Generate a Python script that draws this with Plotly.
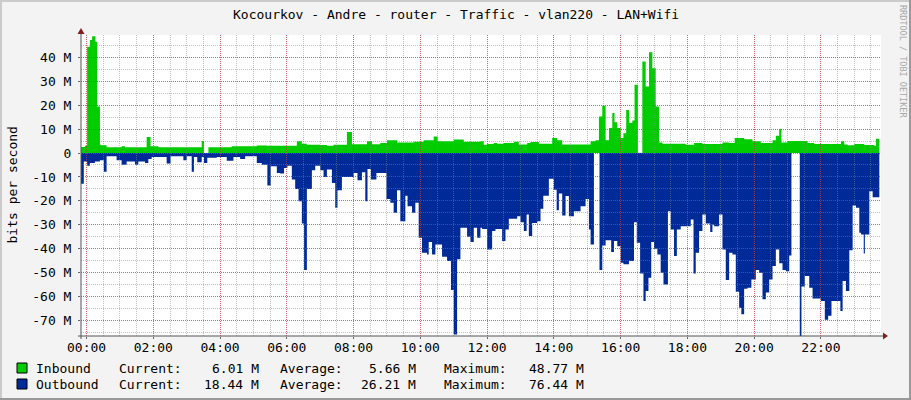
import plotly.graph_objects as go

# minutes after midnight where the value changes (step data), values in Mbit/s
in_t = [-10, -3, 1, 6, 10, 16, 19, 24, 26, 36, 63, 69, 108, 115, 129, 207, 211, 219, 261, 306, 324,
        354, 378, 387, 396, 420, 432, 444, 468, 477, 504, 513, 528, 540, 558, 588, 606, 624, 631, 660, 678,
        708, 714, 720, 732, 738, 750, 768, 777, 792, 798, 813, 837, 846, 855, 906, 915, 921, 927, 933, 939,
        945, 949, 954, 960, 965, 970, 975, 981, 985, 991, 999, 1005, 1011, 1017, 1023, 1029, 1035,
        1077, 1092, 1107, 1143, 1155, 1165, 1182, 1197, 1212, 1233, 1239, 1245, 1249, 1260, 1296, 1308,
        1356, 1362, 1368, 1380, 1398, 1416, 1419, 1425]
in_v = [2.5, 3.0, 44.4, 47.2, 48.77, 46.5, 19.4, 3.5, 3.2, 2.4, 2.8, 2.4, 6.7, 2.8, 2.4, 5.0, 0, 2.4, 2.8, 3.1, 3.0,
        3.0, 4.9, 3.9, 3.5, 3.3, 3.0, 3.5, 8.75, 3.7, 4.9, 3.7, 4.2, 5.3, 4.4, 4.7, 5.3, 6.9, 4.9, 5.6, 4.7,
        4.9, 3.5, 3.75, 4.2, 3.9, 4.2, 4.7, 3.6, 4.2, 4.6, 3.9, 6.25, 5.3, 3.6, 4.9, 5.3, 15.3, 19.7, 5.3, 10.4,
        16.7, 12.8, 10.4, 6.25, 8.3, 18.0, 12.5, 13.6, 28.5, 0, 38.2, 27.8, 42.1, 35.4, 19.4, 4.4, 3.9,
        3.5, 4.2, 3.75, 4.4, 4.2, 6.25, 5.8, 4.9, 4.2, 5.3, 7.2, 10.0, 4.4, 5.0, 4.2, 3.75,
        4.9, 3.6, 3.2, 3.75, 3.3, 3.0, 6.0, 6.0]

out_t = [-10, -5, 1, 6, 15, 24, 31, 36, 54, 63, 72, 87, 93, 105, 111, 117, 144, 151, 174, 180, 189, 193, 199,
         207, 211, 217, 234, 252, 264, 276, 285, 306, 315, 325, 331, 342, 348,
         355, 361, 369, 375, 381, 387, 391, 396, 405, 411, 420, 426, 432, 441, 447, 451, 459, 480, 487, 495,
         501, 505, 511, 521, 539, 546, 552, 558, 564, 573, 577, 585, 591, 597, 603, 612, 615, 621, 627, 639,
         648, 655, 660, 666, 672, 684, 690, 696, 702, 708,
         711, 720, 729, 735, 747, 753, 759, 774, 780, 786, 791, 795, 801, 810, 816, 821, 831, 840, 845, 849,
         855, 861, 867, 876, 888, 897, 903, 906, 912, 922, 927, 933, 943, 948, 954, 960, 965, 975, 984, 989,
         995, 1001, 1005, 1010, 1015, 1020, 1026, 1032, 1037, 1045, 1050, 1056, 1061, 1068,
         1080, 1086, 1091, 1095, 1101, 1107, 1113, 1121, 1125, 1128, 1137, 1143, 1149, 1155, 1161, 1167, 1173,
         1177, 1182, 1188, 1195, 1203, 1209, 1215, 1221, 1227, 1233, 1239, 1245, 1251, 1257, 1263, 1267, 1282,
         1285, 1291, 1299, 1305, 1320, 1327, 1333, 1339, 1355, 1359, 1365, 1371, 1377, 1383, 1389, 1392, 1397,
         1399, 1407, 1413, 1425]
out_v = [-12.8, -3.5, -5.3, -4.2, -3.5, -3.0, -7.8, -1.4, -3.0, -4.9, -3.5, -4.9, -3.5, -4.2, -2.5, -1.7, -4.4,
         -1.4, -3.0, -1.4, -7.8, -1.7, -3.9, -1.7, -4.2, -2.0, -1.7, -3.2, -1.7, -2.5, -1.4, -4.2, -4.9, -13.6,
         -5.5, -8.3, -8.6,
         -6.25, -5.3, -11.1, -15.0, -20.1, -29.4, -48.9, -15.0, -7.2, -5.3, -7.2, -10.0, -6.9, -12.5, -22.9,
         -15.6, -10.0, -8.3, -11.4, -8.0, -20.1, -6.7, -11.1, -8.3, -19.2, -20.8, -25.0, -15.6, -28.5, -17.8,
         -22.2, -25.0, -20.8, -35.4, -41.7, -42.4, -37.2, -42.4, -38.2, -43.3, -45.1, -57.2, -75.8, -44.4,
         -31.25, -35.0, -37.2, -31.25, -35.4, -31.25,
         -31.7, -40.3, -32.6, -31.7, -36.8, -31.9, -27.5, -26.4, -28.9, -32.6, -25.7, -34.7, -29.2, -28.5,
         -23.3, -17.8, -10.8, -15.3, -23.9, -16.9, -26.1, -18.0, -26.4, -24.3, -22.2, -19.2, -31.9, -38.2, 0,
         -48.9, -38.6, -36.4, -41.4, -36.8, -38.9, -45.8, -46.5, -45.1, -28.9, -37.5, -50.3, -61.8, -57.6,
         -52.1, -37.2, -40.0, -42.4, -50.0, -54.9, -24.3, -31.9, -43.0, -31.9, -30.6,
         -30.6, -27.8, -50.3, -41.7, -32.6, -25.7, -29.4, -33.0, -29.9, -30.6, -25.7, -40.3, -53.0, -41.7,
         -42.4, -58.0, -64.6, -67.4, -56.7, -56.25, -52.8, -48.9, -50.0, -61.1, -58.3, -52.8, -47.2, -40.3,
         -46.1, -48.9, -49.4, -42.8, 0, -76.44, -55.8, -51.4, -56.25, -60.8, -61.8, -69.7, -68.0, -61.8,
         -66.0, -53.5, -57.6, -40.6, -21.9, -22.9, -33.3, -34.0, -42.0, -34.0, -16.0, -18.44, -18.44]

hour_ticks = list(range(0, 1440, 120))
hour_labels = ["00:00", "02:00", "04:00", "06:00", "08:00", "10:00",
               "12:00", "14:00", "16:00", "18:00", "20:00", "22:00"]
y_ticks = [40, 30, 20, 10, 0, -10, -20, -30, -40, -50, -60, -70]
y_labels = ["40 M", "30 M", "20 M", "10 M", "0", "-10 M", "-20 M",
            "-30 M", "-40 M", "-50 M", "-60 M", "-70 M"]

names = ["Inbound", "Outbound"]
colors = ["#00CC00", "#002A97"]
current = ["6.01 M", "18.44 M"]
average = ["5.66 M", "26.21 M"]
maximum = ["48.77 M", "76.44 M"]

title = "Kocourkov - Andre - router - Traffic - vlan220 - LAN+Wifi"
FONT = "DejaVu Sans Mono"

# plot area in pixels
L, R, T, B = 81, 881, 35, 336
W, H = R - L, B - T


def px(x):
    return (x - L) / W


def py(y):
    return (B - y) / H


fig = go.Figure()
fig.add_trace(go.Scatter(x=in_t, y=in_v, mode="lines", line=dict(width=0, shape="hv", color=colors[0]),
                         fill="tozeroy", fillcolor=colors[0], hoverinfo="skip"))
fig.add_trace(go.Scatter(x=out_t, y=out_v, mode="lines", line=dict(width=0, shape="hv", color=colors[1]),
                         fill="tozeroy", fillcolor=colors[1], hoverinfo="skip"))
# empty traces so the two grid subplots get drawn over the areas (minor, then major)
fig.add_trace(go.Scatter(x=[], y=[], xaxis="x2", yaxis="y2", hoverinfo="skip"))
fig.add_trace(go.Scatter(x=[], y=[], xaxis="x3", yaxis="y3", hoverinfo="skip"))

xr = [-10, 1428]
yr = [-76.44, 49.3]
mgrid = "rgba(215,30,30,0.55)"
grid = "rgba(130,130,130,0.5)"


def grid_axis(rng, anchor, step, color):
    return dict(range=rng, anchor=anchor, showticklabels=False, ticks="", zeroline=False, showline=False,
                dtick=step, tick0=0, showgrid=True, gridcolor=color, griddash="1px,1px", gridwidth=1,
                fixedrange=True)


fig.update_layout(
    width=911, height=400,
    margin=dict(l=L, r=911 - R, t=T, b=400 - B),
    paper_bgcolor="#F3F3F3",
    plot_bgcolor="rgba(0,0,0,0)",
    showlegend=False,
    font=dict(family=FONT, size=13, color="#000000"),
    xaxis=dict(range=xr, tickvals=hour_ticks, ticktext=hour_labels, showgrid=False, zeroline=False,
               ticks="outside", ticklen=2, tickcolor="#666666", fixedrange=True, ticklabelstandoff=-3,
               tickfont=dict(family=FONT, size=13)),
    yaxis=dict(range=yr, tickvals=y_ticks, ticktext=y_labels, showgrid=False, zeroline=False,
               ticks="outside", ticklen=2, tickcolor="#666666", fixedrange=True, ticklabelstandoff=4,
               tickfont=dict(family=FONT, size=13)),
    xaxis2=grid_axis(xr, "y2", 30, grid),
    yaxis2=grid_axis(yr, "x2", 5, grid),
    xaxis3=grid_axis(xr, "y3", 120, mgrid),
    yaxis3=grid_axis(yr, "x3", 10, mgrid),
)

shapes = [
    # canvas
    dict(type="rect", x0=0, x1=1, y0=0, y1=1, fillcolor="#FFFFFF", line=dict(width=0), layer="below"),
    # frame
    dict(type="line", x0=px(0), x1=px(911), y0=py(1), y1=py(1), line=dict(color="#CBCBCB", width=2)),
    dict(type="line", x0=px(1), x1=px(1), y0=py(0), y1=py(400), line=dict(color="#CBCBCB", width=2)),
    dict(type="line", x0=px(0), x1=px(911), y0=py(399), y1=py(399), line=dict(color="#999999", width=2)),
    dict(type="line", x0=px(910), x1=px(910), y0=py(0), y1=py(400), line=dict(color="#999999", width=2)),
    # axes with arrows
    dict(type="line", x0=px(78), x1=px(884), y0=py(336), y1=py(336), line=dict(color="#555555", width=1)),
    dict(type="line", x0=px(81), x1=px(81), y0=py(339), y1=py(31), line=dict(color="#555555", width=1)),
    dict(type="path", path=f"M {px(883)},{py(332.5)} L {px(888)},{py(336)} L {px(883)},{py(339.5)} Z",
         fillcolor="#7F1F1F", line=dict(width=0)),
    dict(type="path", path=f"M {px(77.5)},{py(34)} L {px(81)},{py(28)} L {px(84.5)},{py(34)} Z",
         fillcolor="#7F1F1F", line=dict(width=0)),
]
for i in range(2):
    top = 363 + 16 * i
    shapes.append(dict(type="rect", x0=px(17), x1=px(27), y0=py(top + 10), y1=py(top),
                       fillcolor=colors[i], line=dict(color="#000000", width=1)))
fig.update_layout(shapes=[dict(dict(xref="paper", yref="paper", layer="above"), **s) for s in shapes])

ann = [
    dict(text=title, x=px(455.5), y=py(14), xanchor="center"),
    dict(text="bits per second", x=px(12), y=py(185.5), xanchor="center", textangle=-90),
    dict(text="RRDTOOL / TOBI OETIKER", x=px(903), y=py(61), xanchor="center", textangle=90,
         font=dict(family=FONT, size=8.5, color="#A8A8A8")),
]
for i in range(2):
    yy = py(368 + 16 * i)
    ann += [
        dict(text=names[i], x=px(34), y=yy, xanchor="left"),
        dict(text="Current:", x=px(117), y=yy, xanchor="left"),
        dict(text=current[i], x=px(261), y=yy, xanchor="right"),
        dict(text="Average:", x=px(278), y=yy, xanchor="left"),
        dict(text=average[i], x=px(418), y=yy, xanchor="right"),
        dict(text="Maximum:", x=px(442), y=yy, xanchor="left"),
        dict(text=maximum[i], x=px(586), y=yy, xanchor="right"),
    ]
fig.update_layout(annotations=[dict(dict(xref="paper", yref="paper", showarrow=False, yanchor="middle"), **a)
                               for a in ann])

fig.write_html("out.html", config={"displayModeBar": False},
               post_script="document.body.style.margin='0';")
